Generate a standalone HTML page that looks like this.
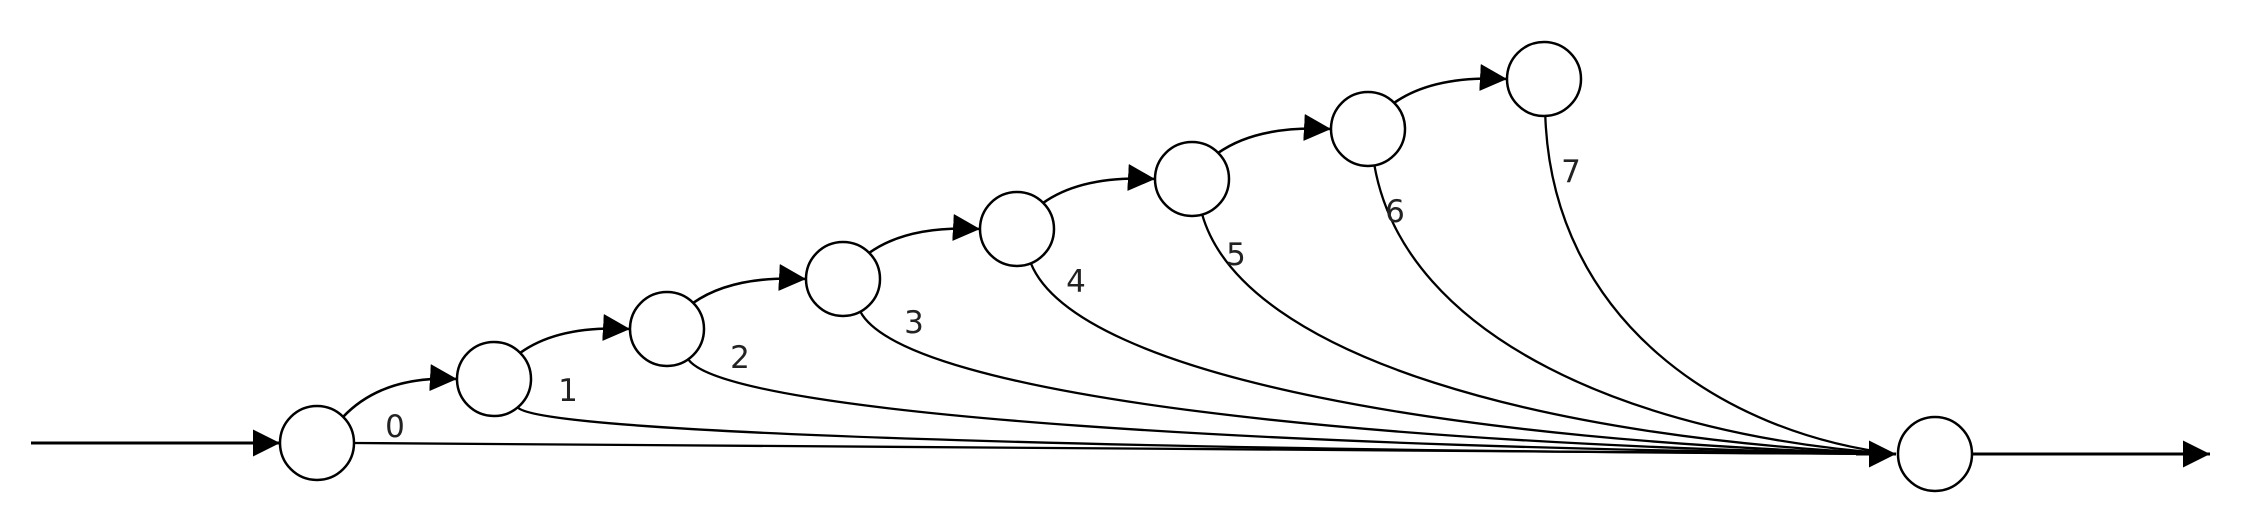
<!DOCTYPE html>
<html><head><meta charset="utf-8"><style>
html,body{margin:0;padding:0;background:#fff;overflow:hidden;}
svg{display:block;}
text{font-family:"DejaVu Sans","Liberation Sans",sans-serif;font-size:31px;fill:#222;}
</style></head><body>
<svg id="chart" width="2244" height="519" viewBox="0 0 2244 519" xmlns="http://www.w3.org/2000/svg">
<defs><marker id="ah" viewBox="0 0 10 10" refX="10" refY="5" markerWidth="27" markerHeight="27" markerUnits="userSpaceOnUse" orient="auto"><path d="M0,0 L10,5 L0,10 z" fill="#000"/></marker></defs>
<g id="edges"></g><g id="nodes"></g><g id="labels"></g>
</svg>
<script>
const labels = ["0","1","2","3","4","5","6","7"];
const nodeX = [317,494,667,843,1017,1192,1368,1544];
const nodeY = [443,379,329,279,229,179,129,79];
const exitAngle = [0,50,55,62,68,74,80,88];
const labelX = [395,568,740,914,1076,1236,1395,1571];
const labelY = [427,391,358,323,282,255,212,172];
const R = 37, FX = 1935, FY = 454;
const NS = "http://www.w3.org/2000/svg";
const E = document.getElementById('edges'), N = document.getElementById('nodes'), L = document.getElementById('labels');
function mk(tag, attrs, parent){const e=document.createElementNS(NS,tag);for(const k in attrs)e.setAttribute(k,attrs[k]);parent.appendChild(e);return e;}
let p = mk('line',{x1:31,y1:nodeY[0],x2:nodeX[0]-R,y2:nodeY[0],stroke:'#000','stroke-width':3,'marker-end':'url(#ah)'},E);


p = mk('line',{x1:FX+R,y1:FY,x2:2210,y2:FY,stroke:'#000','stroke-width':3,'marker-end':'url(#ah)'},E);


const ex = FX-R-2, ey = FY;
for(let i=0;i<labels.length;i++){
  if(i<labels.length-1){
    const sx=nodeX[i]+R*0.7, sy=nodeY[i]-R*0.7, tx=nodeX[i+1]-R, ty=nodeY[i+1];
    const d=`M${sx},${sy} Q${sx+(tx-sx)*0.35},${ty-4} ${tx},${ty}`;
    p = mk('path',{d:d,fill:'none',stroke:'#000','stroke-width':2.6,'marker-end':'url(#ah)'},E);
    
    
  }
  const a = exitAngle[i]*Math.PI/180;
  const sx = nodeX[i]+R*Math.cos(a), sy = nodeY[i]+R*Math.sin(a);
  let d;
  if(exitAngle[i]===0){
    d = `M${sx},${sy} L${ex},${ey}`;
  } else {
    const t = (ey-sy)*0.6/Math.sin(a);
    const c1x = sx+Math.cos(a)*t, c1y = sy+Math.sin(a)*t;
    const c2x = ex-(ex-sx)*0.5, c2y = ey-(ey-sy)*0.06;
    d = `M${sx},${sy} C${c1x},${c1y} ${c2x},${c2y} ${ex},${ey}`;
  }
  p = mk('path',{d:d,fill:'none',stroke:'#000','stroke-width':2.3},E);
  
  
  const c = mk('circle',{cx:nodeX[i],cy:nodeY[i],r:R,fill:'#fff',stroke:'#000','stroke-width':2.5},N);
  
  
  const tx = mk('text',{x:labelX[i],y:labelY[i],'text-anchor':'middle','dominant-baseline':'central'},L);
  tx.textContent = labels[i];
  
  
}
p = mk('line',{x1:ex-40,y1:ey,x2:ex,y2:ey,stroke:'#000','stroke-width':3,'marker-end':'url(#ah)'},E);


const f = mk('circle',{cx:FX,cy:FY,r:R,fill:'#fff',stroke:'#000','stroke-width':2.5},N);


</script>
</body></html>
